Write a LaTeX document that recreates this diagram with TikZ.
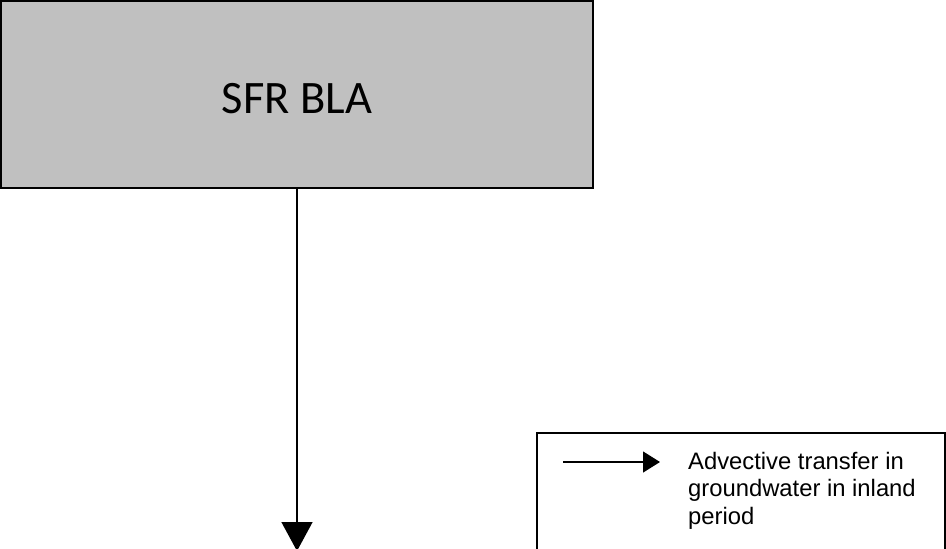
\documentclass[tikz,border=0pt]{standalone}
\usepackage{fontspec}
\setmainfont{Liberation Sans}
\newfontfamily\calibrifont{Carlito}
\usetikzlibrary{arrows.meta}
\definecolor{boxgray}{RGB}{192,192,192}
\tikzset{
  mainbox/.style={draw=black, fill=boxgray, line width=2pt, minimum width=592pt, minimum height=187pt,
    inner sep=0pt, font=\calibrifont\fontsize{46.5pt}{50pt}\selectfont, text height=37pt, text depth=0pt},
  flowarrow/.style={line width=1.5pt, -{Triangle[length=29pt,width=31pt]}},
  legendbox/.style={draw=black, line width=1.5pt, minimum width=408pt, minimum height=160pt, inner sep=0pt},
  legendarrow/.style={line width=1.3pt, -{Triangle[length=17pt,width=21pt]}},
  legendtext/.style={font=\fontsize{23.8pt}{27.5pt}\selectfont, align=left, inner sep=0pt, anchor=north west}
}
\begin{document}
\begin{tikzpicture}[x=1pt,y=-1pt]
\useasboundingbox (0,0) rectangle (946,549);
\node[mainbox] (sfr) at (297,94.5) {SFR BLA};
\coordinate (flowend) at (297,551);
\draw[flowarrow] (sfr.south -| flowend) -- (flowend);
\node[legendbox] (legend) at (741,513) {};
\coordinate (la1) at (563,462);
\coordinate (la2) at (660,462);
\draw[legendarrow] (la1) -- (la2);
\node[legendtext] (ltext) at (688,452) {Advective transfer in\\groundwater in inland\\period};
\end{tikzpicture}
\end{document}
